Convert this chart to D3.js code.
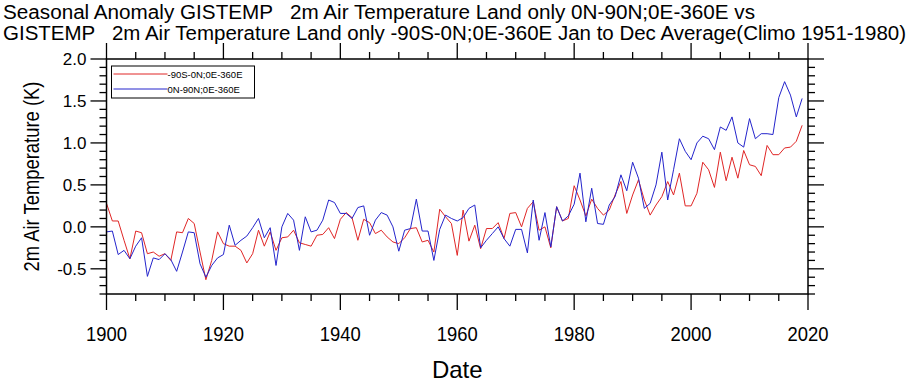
<!DOCTYPE html>
<html lang="en">
<head>
<meta charset="UTF-8">
<title>GISTEMP land anomaly</title>
<script src="https://d3js.org/d3.v7.min.js"></script>
<style>
    body { margin: 0; background: #fff; }
    svg text { font-family: "Liberation Sans", Arial, sans-serif; fill: #000; }
    .title { font-size: 19.5px; white-space: pre; }
</style>
</head>
<body>
<div id="chart"></div>
<script>

    /* yearly values, 1900 .. 2019 */
    var startYear = 1900;
    var years = d3.range(startYear, 2020);

    // -90S-0N;0E-360E  (red)
    var south = [
        0.28, 0.07, 0.07, -0.16, -0.38, -0.05, -0.07, -0.32, -0.30, -0.35,
        -0.32, -0.40, -0.06, -0.07, 0.10, 0.04, -0.30, -0.63, -0.40, -0.06,
        -0.20, -0.23, -0.23, -0.28, -0.43, -0.32, -0.04, -0.23, -0.06, -0.28,
        -0.13, -0.12, -0.04, -0.19, -0.21, -0.23, -0.10, -0.09, -0.01, -0.14,
        0.09, 0.17, 0.11, -0.16, 0.09, 0.05, -0.08, -0.04, -0.12, -0.18,
        -0.20, -0.13, -0.02, -0.01, -0.18, -0.16, -0.30, 0.21, 0.12, 0.04,
        -0.34, 0.20, -0.17, 0.02, -0.26, -0.02, -0.02, 0.05, -0.14, 0.16,
        0.17, 0.00, 0.22, 0.30, -0.04, 0.00, -0.25, 0.24, 0.07, 0.10,
        0.49, 0.32, 0.13, 0.33, 0.22, 0.14, 0.20, 0.38, 0.54, 0.16,
        0.38, 0.56, 0.32, 0.14, 0.26, 0.36, 0.54, 0.38, 0.64, 0.25,
        0.25, 0.40, 0.77, 0.68, 0.47, 0.89, 0.55, 0.83, 0.58, 0.91,
        0.74, 0.72, 0.61, 0.97, 0.86, 0.86, 0.94, 0.95, 1.02, 1.21
    ];

    // 0N-90N;0E-360E  (blue)
    var north = [
        -0.06, -0.05, -0.33, -0.28, -0.38, -0.23, -0.13, -0.59, -0.37, -0.39,
        -0.32, -0.39, -0.53, -0.30, -0.06, -0.07, -0.44, -0.60, -0.46, -0.37,
        -0.33, 0.02, -0.22, -0.16, -0.11, -0.01, 0.10, -0.13, -0.01, -0.46,
        0.00, 0.16, 0.08, -0.28, 0.12, -0.06, -0.04, 0.08, 0.32, 0.29,
        0.16, 0.16, 0.10, 0.23, 0.25, -0.10, 0.08, 0.17, 0.14, 0.00,
        -0.29, -0.04, -0.02, 0.33, -0.05, -0.05, -0.40, -0.03, 0.14, 0.10,
        0.07, 0.11, 0.22, 0.26, -0.25, -0.16, -0.08, 0.00, -0.14, -0.23,
        -0.03, -0.03, -0.31, 0.32, -0.16, 0.17, -0.24, 0.24, 0.07, 0.13,
        0.27, 0.64, 0.06, 0.46, 0.04, 0.03, 0.26, 0.36, 0.62, 0.43,
        0.77, 0.58, 0.22, 0.28, 0.50, 0.89, 0.32, 0.68, 1.05, 0.90,
        0.80, 1.00, 1.08, 1.05, 0.92, 1.19, 1.15, 1.31, 1.00, 0.95,
        1.29, 1.05, 1.11, 1.11, 1.10, 1.54, 1.73, 1.57, 1.31, 1.53
    ];

    var seriesNames = ["-90S-0N;0E-360E", "0N-90N;0E-360E"];
    var seriesColors = ["#e02626", "#2424cc"];

    var xMajorTicks = [1900, 1920, 1940, 1960, 1980, 2000, 2020];
    var yMajorTicks = [-0.5, 0.0, 0.5, 1.0, 1.5, 2.0];

    var titleLines = [
        "Seasonal Anomaly GISTEMP   2m Air Temperature Land only 0N-90N;0E-360E vs",
        "GISTEMP   2m Air Temperature Land only -90S-0N;0E-360E Jan to Dec Average(Climo 1951-1980)"
    ];

    /* set up margins */
    var W = 912, H = 384;
    var margin = {top: 59, right: 104, bottom: 90, left: 106.5};
    var width = W - margin.left - margin.right,
        height = H - margin.top - margin.bottom;

    var svg = d3.select("#chart").append("svg")
        .attr("width", W)
        .attr("height", H);

    var x = d3.scaleLinear().domain([1900, 2020]).range([0, width]);
    var y = d3.scaleLinear().domain([-0.8, 2.0]).range([height, 0]);

    /* titles, squeezed to the reference width */
    var titleWidths = [752, 903];
    svg.selectAll("text.title")
        .data(titleLines)
        .enter().append("text")
        .attr("class", "title")
        .attr("x", 3)
        .attr("y", function(d, i) { return 19 + i * 20.5; })
        .attr("textLength", function(d, i) { return titleWidths[i]; })
        .attr("lengthAdjust", "spacingAndGlyphs")
        .text(function(d) { return d; });

    var g = svg.append("g")
        .attr("transform", "translate(" + margin.left + "," + margin.top + ")");

    // minor tick values
    var xMinor = d3.range(1900, 2021, 5).filter(function(v) { return v % 20 !== 0; });
    var yMinor = d3.range(-8, 21).map(function(v) { return v / 10; })
        .filter(function(v) { return Math.abs(v * 2 - Math.round(v * 2)) > 1e-6; });

    var majorLen = 16, minorLen = 7;

    function tickLines(sel, vals, len, orient) {
        sel.selectAll(null).data(vals).enter().append("line")
            .attr("stroke", "#000")
            .attr("stroke-width", 1.3)
            .attr("x1", function(d) { return orient === "b" || orient === "t" ? x(d) : (orient === "l" ? 0 : width); })
            .attr("x2", function(d) { return orient === "b" || orient === "t" ? x(d) : (orient === "l" ? -len : width + len); })
            .attr("y1", function(d) { return orient === "l" || orient === "r" ? y(d) : (orient === "t" ? 0 : height); })
            .attr("y2", function(d) { return orient === "l" || orient === "r" ? y(d) : (orient === "t" ? -len : height + len); });
    }

    var ticks = g.append("g").attr("class", "ticks");
    ["b", "t"].forEach(function(o) {
        tickLines(ticks, xMajorTicks, majorLen, o);
        tickLines(ticks, xMinor, minorLen, o);
    });
    ["l", "r"].forEach(function(o) {
        tickLines(ticks, yMajorTicks, majorLen, o);
        tickLines(ticks, yMinor, minorLen, o);
    });

    /* data lines */
    var line = d3.line()
        .x(function(d, i) { return x(years[i]); })
        .y(function(d) { return y(d); });

    [south, north].forEach(function(s, k) {
        g.append("path")
            .datum(s)
            .attr("fill", "none")
            .attr("stroke", seriesColors[k])
            .attr("stroke-width", 1)
            .attr("stroke-linejoin", "round")
            .attr("d", line);
    });

    // frame
    g.append("rect")
        .attr("width", width)
        .attr("height", height)
        .attr("fill", "none")
        .attr("stroke", "#000")
        .attr("stroke-width", 1.5);

    /* tick labels */
    g.selectAll("text.xlab")
        .data(xMajorTicks)
        .enter().append("text")
        .attr("class", "xlab")
        .attr("x", function(d) { return x(d); })
        .attr("y", height + 47)
        .attr("text-anchor", "middle")
        .attr("font-size", 20)
        .attr("textLength", 41)
        .attr("lengthAdjust", "spacingAndGlyphs")
        .text(function(d) { return d; });

    g.selectAll("text.ylab")
        .data(yMajorTicks)
        .enter().append("text")
        .attr("class", "ylab")
        .attr("x", -20)
        .attr("y", function(d) { return y(d) + 6; })
        .attr("text-anchor", "end")
        .attr("font-size", 17)
        .text(function(d) { return d3.format(".1f")(d).replace("−", "-"); });

    // axis titles
    g.append("text")
        .attr("x", width / 2)
        .attr("y", height + 84)
        .attr("text-anchor", "middle")
        .attr("font-size", 24)
        .text("Date");

    g.append("text")
        .attr("transform", "translate(" + (-68) + "," + (height / 2) + ") rotate(-90)")
        .attr("text-anchor", "middle")
        .attr("font-size", 22)
        .attr("textLength", 190)
        .attr("lengthAdjust", "spacingAndGlyphs")
        .text("2m Air Temperature (K)");

    /* legend */
    var leg = g.append("g").attr("transform", "translate(5,7)");
    leg.append("rect")
        .attr("width", 143)
        .attr("height", 32)
        .attr("fill", "#fff")
        .attr("stroke", "#000")
        .attr("stroke-width", 1);
    seriesNames.forEach(function(name, k) {
        leg.append("line")
            .attr("x1", 2).attr("x2", 56)
            .attr("y1", 8 + k * 15).attr("y2", 8 + k * 15)
            .attr("stroke", seriesColors[k])
            .attr("stroke-width", 1);
        leg.append("text")
            .attr("x", 56)
            .attr("y", 11.5 + k * 15)
            .attr("font-size", 9.5)
            .text(name);
    });

</script>
</body>
</html>
